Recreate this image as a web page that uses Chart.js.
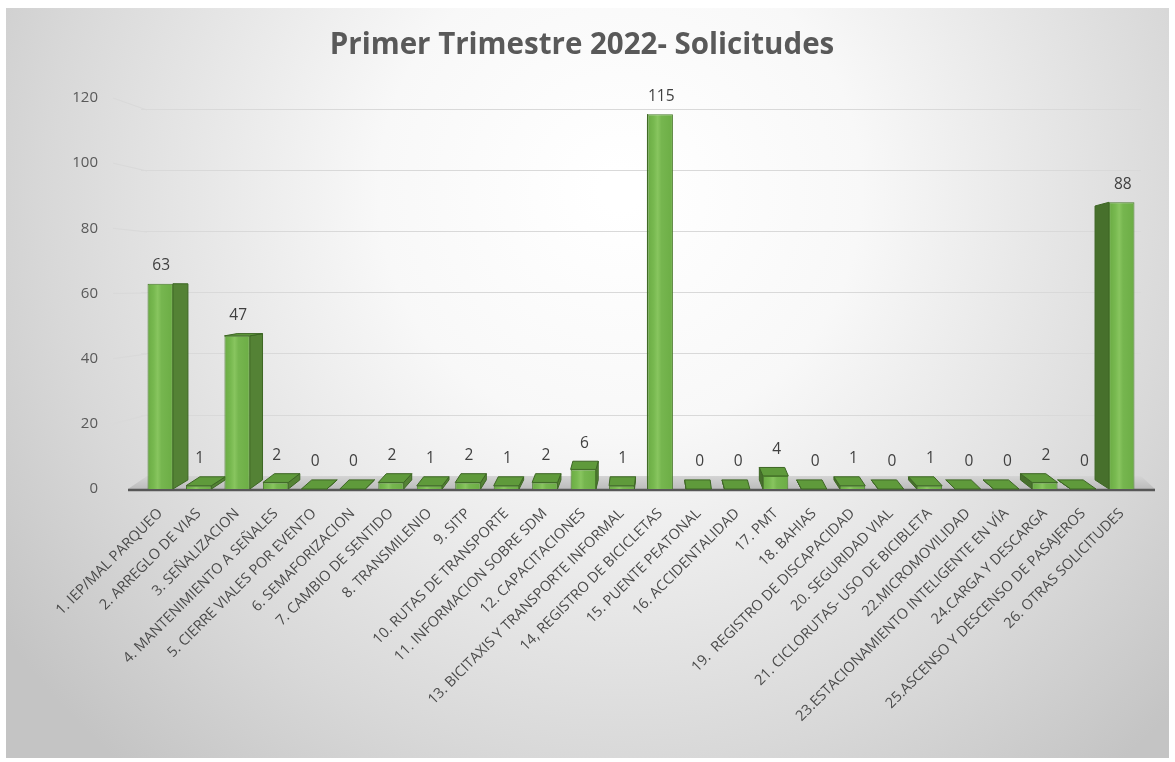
<!DOCTYPE html>
<html>
<head>
<meta charset="utf-8">
<script src="https://cdn.jsdelivr.net/npm/chart.js@4.4.1/dist/chart.umd.min.js"></script>
<style>
  html, body { margin: 0; padding: 0; background: #ffffff; }
  #c { display: block; }
</style>
</head>
<body>
<canvas id="c" width="1175" height="762"></canvas>
<script>
const chartTitle = "Primer Trimestre 2022- Solicitudes";
const categories = [
  "1. IEP/MAL PARQUEO",
  "2. ARREGLO DE VIAS",
  "3. SEÑALIZACION",
  "4. MANTENIMIENTO A SEÑALES",
  "5. CIERRE VIALES POR EVENTO",
  "6. SEMAFORIZACION",
  "7. CAMBIO DE SENTIDO",
  "8. TRANSMILENIO",
  "9. SITP",
  "10. RUTAS DE TRANSPORTE",
  "11. INFORMACION SOBRE SDM",
  "12. CAPACITACIONES",
  "13. BICITAXIS Y TRANSPORTE INFORMAL",
  "14, REGISTRO DE BICICLETAS",
  "15. PUENTE PEATONAL",
  "16. ACCIDENTALIDAD",
  "17. PMT",
  "18. BAHIAS",
  "19.  REGISTRO DE DISCAPACIDAD",
  "20. SEGURIDAD VIAL",
  "21. CICLORUTAS- USO DE BICIBLETA",
  "22.MICROMOVILIDAD",
  "23.ESTACIONAMIENTO INTELIGENTE EN VÍA",
  "24.CARGA Y DESCARGA",
  "25.ASCENSO Y DESCENSO DE PASAJEROS",
  "26. OTRAS SOLICITUDES"
];
const solicitudes = [63, 1, 47, 2, 0, 0, 2, 1, 2, 1, 2, 6, 1, 115, 0, 0, 4, 0, 1, 0, 1, 0, 0, 2, 0, 88];
const yTicks = [0, 20, 40, 60, 80, 100, 120];

const FONT = "'Open Sans', 'DejaVu Sans', sans-serif";
const TEXT = "#595959";
const DEPTH = 0.7;
const BAR_PCT = 0.66;

function sideDx(chart, cx) {
  const a = chart.chartArea;
  const vx = a.left + 0.516 * (a.right - a.left);
  return (vx - cx) * 0.0302;
}

const threeD = {
  id: "threeD",
  beforeDraw(chart) {
    const ctx = chart.ctx;
    ctx.save();
    ctx.fillStyle = "#ffffff";
    ctx.fillRect(0, 0, chart.width, chart.height);
    const g = ctx.createRadialGradient(620, 190, 20, 620, 190, 760);
    g.addColorStop(0, "#ffffff");
    g.addColorStop(0.3, "#f8f8f8");
    g.addColorStop(0.75, "#d8d8d8");
    g.addColorStop(1, "#c4c4c4");
    ctx.fillStyle = g;
    ctx.fillRect(6, 8, chart.width - 12, chart.height - 12);
    ctx.restore();
  },
  beforeDatasetsDraw(chart) {
    const ctx = chart.ctx;
    const a = chart.chartArea;
    const yF = chart.scales.y, yB = chart.scales.yb;
    ctx.save();
    ctx.strokeStyle = "#d9d9d9";
    ctx.lineWidth = 1;
    yTicks.forEach(v => {
      if (v === 0) return;
      ctx.beginPath();
      ctx.moveTo(a.left - 28, yF.getPixelForValue(v));
      ctx.lineTo(a.left + 6, yB.getPixelForValue(v));
      ctx.stroke();
    });
    const f0 = yF.getPixelForValue(0), b0 = yB.getPixelForValue(0);
    const fg = ctx.createLinearGradient(0, b0, 0, f0);
    fg.addColorStop(0, "#d4d4d4");
    fg.addColorStop(1, "#bcbcbc");
    ctx.fillStyle = fg;
    ctx.beginPath();
    ctx.moveTo(a.left - 13, f0);
    ctx.lineTo(a.right + 14, f0);
    ctx.lineTo(a.right, b0);
    ctx.lineTo(a.left + 6, b0);
    ctx.closePath();
    ctx.fill();
    ctx.strokeStyle = "#575757";
    ctx.lineWidth = 2.5;
    ctx.beginPath();
    ctx.moveTo(a.left - 13, f0 + 1);
    ctx.lineTo(a.right + 14, f0 + 1);
    ctx.stroke();

    const meta = chart.getDatasetMeta(0);
    meta.data.forEach((el, i) => {
      const v = solicitudes[i];
      const w = el.width;
      const xl = el.x - w / 2, xr = el.x + w / 2;
      const yt = el.y, yb = el.base;
      const dx = sideDx(chart, el.x);
      const dyT = DEPTH * (yB.getPixelForValue(v) - yF.getPixelForValue(v));
      const dyB = DEPTH * (yB.getPixelForValue(0) - yF.getPixelForValue(0));
      const xe = dx >= 0 ? xr : xl;
      ctx.lineWidth = 1;
      ctx.strokeStyle = "#3d6624";
      ctx.fillStyle = dx >= 0 ? "#548235" : "#47702c";
      ctx.beginPath();
      ctx.moveTo(xe, yt);
      ctx.lineTo(xe, yb);
      ctx.lineTo(xe + dx, yb + dyB);
      ctx.lineTo(xe + dx, yt + dyT);
      ctx.closePath();
      ctx.fill();
      ctx.stroke();
      if (dyT < 0) {
        ctx.fillStyle = "#5f9a3b";
        ctx.beginPath();
        ctx.moveTo(xl, yt);
        ctx.lineTo(xr, yt);
        ctx.lineTo(xr + dx, yt + dyT);
        ctx.lineTo(xl + dx, yt + dyT);
        ctx.closePath();
        ctx.fill();
        ctx.stroke();
      }
    });
    ctx.restore();
  },
  afterDatasetsDraw(chart) {
    const ctx = chart.ctx;
    const yF = chart.scales.y, yB = chart.scales.yb;
    const meta = chart.getDatasetMeta(0);
    ctx.save();
    ctx.fillStyle = "#404040";
    ctx.font = "15.5px " + FONT;
    ctx.textAlign = "center";
    ctx.textBaseline = "middle";
    meta.data.forEach((el, i) => {
      const v = solicitudes[i];
      const dyT = DEPTH * (yB.getPixelForValue(v) - yF.getPixelForValue(v));
      const top = Math.min(el.y, el.y + dyT);
      ctx.fillText(String(v), el.x + 1, top - 18);
    });
    ctx.restore();
  }
};

function frontFill(c) {
  const chart = c.chart;
  const xs = chart.scales.x;
  if (!xs || !chart.chartArea) return "#70ad47";
  const cx = xs.getPixelForValue(c.dataIndex);
  const w = (chart.chartArea.right - chart.chartArea.left) / categories.length * BAR_PCT;
  const g = chart.ctx.createLinearGradient(cx - w / 2, 0, cx + w / 2, 0);
  g.addColorStop(0, "#6aab43");
  g.addColorStop(0.25, "#78b950");
  g.addColorStop(0.4, "#88c55f");
  g.addColorStop(0.55, "#76b64f");
  g.addColorStop(1, "#6cad45");
  return g;
}

new Chart(document.getElementById("c"), {
  type: "bar",
  data: {
    labels: categories,
    datasets: [{
      label: "Solicitudes",
      data: solicitudes,
      backgroundColor: frontFill,
      borderColor: "#4a7a2c",
      borderWidth: 1,
      barPercentage: BAR_PCT,
      categoryPercentage: 1
    }]
  },
  options: {
    responsive: false,
    animation: false,
    devicePixelRatio: 1,
    layout: { padding: { left: 0, right: 11, top: 0, bottom: 0 } },
    plugins: {
      legend: { display: false },
      tooltip: { enabled: false },
      title: {
        display: true,
        text: chartTitle,
        color: TEXT,
        font: { family: FONT, size: 29.5, weight: "bold" },
        padding: { top: 27.8, bottom: 34.8 }
      }
    },
    scales: {
      x: {
        grid: { display: false, drawTicks: false },
        border: { display: false },
        ticks: {
          autoSkip: false,
          maxRotation: 45,
          minRotation: 45,
          padding: 16,
          color: "#4a4a4a",
          font: { family: FONT, size: 14.5 }
        },
        afterFit(s) { s.height = 273; }
      },
      y: {
        position: "left",
        min: 0,
        max: 120,
        grid: { display: false, drawTicks: false },
        border: { display: false },
        ticks: {
          stepSize: 20,
          padding: 43,
          color: TEXT,
          font: { family: FONT, size: 15 }
        },
        afterFit(s) { s.width = 141; }
      },
      yb: {
        position: "right",
        min: -4.26,
        max: 123.93,
        grid: { color: "#d9d9d9", lineWidth: 1, drawTicks: false },
        border: { display: false },
        ticks: { display: false },
        afterBuildTicks(s) { s.ticks = yTicks.map(v => ({ value: v })); },
        afterFit(s) { s.width = 23; }
      }
    }
  },
  plugins: [threeD]
});
</script>
</body>
</html>
